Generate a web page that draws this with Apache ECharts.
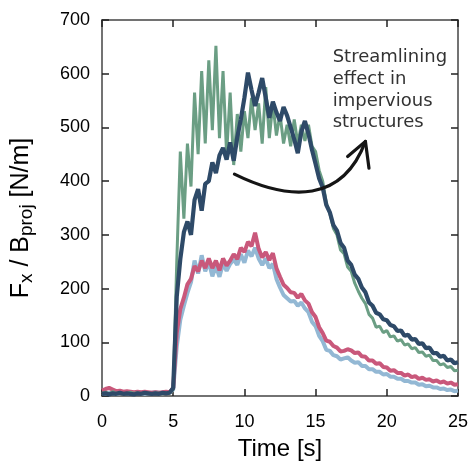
<!DOCTYPE html>
<html><head><meta charset="utf-8">
<script src="https://cdn.jsdelivr.net/npm/echarts@6/dist/echarts.min.js"></script>
<style>html,body{margin:0;padding:0;background:#fff}#c{width:471px;height:466px}</style>
</head><body><div id="c"></div>
<script>
// Sampled every 0.25 s from 0 to 25 s (101 samples per series)
const green = [
  5,7,4,8,5,6,4,5,7,5, 6,4,6,5,4,6,5,4,6,5,
  12,250,455,330,470,390,565,450,605,470,
  625,495,652,480,605,450,565,430,525,455,
  530,480,555,495,545,470,575,480,545,485,
  525,470,505,465,515,470,505,475,505,465,
  455,420,400,360,340,312,300,272,265,240,
  232,210,195,182,172,152,145,128,130,118,
  122,110,112,102,105,95,97,88,90,81,
  82,74,76,66,66,58,60,53,55,47,
  48
];
const darkBlue = [
  4,5,3,5,4,6,4,5,4,3, 5,4,6,5,4,5,4,6,5,6,
  15,185,255,305,325,300,365,385,345,395,
  400,435,415,448,462,440,472,438,482,515,
  555,602,570,540,565,592,555,518,548,528,
  512,538,522,500,478,452,492,512,488,458,
  432,405,388,356,342,318,308,285,276,252,
  244,226,218,202,193,174,168,155,152,143,
  141,132,130,121,122,112,114,105,106,97,
  98,89,90,80,80,73,75,66,68,61,
  63
];
const pink = [
  10,13,15,12,9,10,8,9,8,7, 8,7,8,7,6,7,6,7,8,7,
  15,118,162,183,208,218,242,232,252,238,
  256,238,252,234,256,243,252,264,255,276,
  268,287,279,304,274,258,268,253,266,238,
  222,207,201,193,192,183,190,178,172,156,
  147,128,117,103,101,93,90,83,84,87,
  85,80,81,74,73,66,66,60,61,54,
  53,47,48,43,43,38,40,35,37,32,
  34,30,31,27,29,25,27,23,25,21,
  22
];
const lightBlue = [
  5,4,6,5,4,5,6,5,4,5, 6,5,4,5,6,7,6,5,6,7,
  12,92,142,168,192,212,252,228,262,232,
  250,223,242,222,247,233,246,254,244,264,
  248,271,260,276,256,244,256,238,246,218,
  202,188,182,176,177,168,174,163,156,138,
  130,112,102,86,84,76,74,68,70,72,
  66,62,63,56,56,50,50,45,45,40,
  41,36,36,32,32,28,28,25,25,21,
  22,18,19,16,16,13,14,11,12,9,
  10
];
const time = green.map((_, i) => i * 0.25);
const xTicks = [0, 5, 10, 15, 20, 25];
const yTicks = [0, 100, 200, 300, 400, 500, 600, 700];
const annotation = ['Streamlining', 'effect in', 'impervious', 'structures'];

const pairs = arr => arr.map((v, i) => [time[i], v]);
const chart = echarts.init(document.getElementById('c'), null, {renderer: 'canvas'});
const axisCol = '#444';
const tickFont = {fontFamily: 'Liberation Sans', fontSize: 18, color: '#000'};
const baseX = {
  type: 'value', min: xTicks[0], max: xTicks[xTicks.length - 1], interval: 5,
  axisLine: {show: true, onZero: false, lineStyle: {color: axisCol, width: 1.5}},
  axisTick: {show: true, inside: true, length: 7, lineStyle: {color: '#222', width: 1.5}},
  splitLine: {show: false}
};
const baseY = {
  type: 'value', min: yTicks[0], max: yTicks[yTicks.length - 1], interval: 100,
  axisLine: {show: true, onZero: false, lineStyle: {color: axisCol, width: 1.5}},
  axisTick: {show: true, inside: true, length: 7, lineStyle: {color: '#222', width: 1.5}},
  splitLine: {show: false}
};
const mkSeries = (name, data, color, w) => ({
  name, type: 'line', data: pairs(data), showSymbol: false, symbol: 'none',
  lineStyle: {color, width: w, join: 'bevel'}, itemStyle: {color}, animation: false, z: 2
});
chart.setOption({
  animation: false,
  grid: {left: 102, right: 9, top: 20, bottom: 68, containLabel: false},
  xAxis: [
    Object.assign({}, baseX, {
      position: 'bottom',
      axisLabel: Object.assign({margin: 17}, tickFont),
      name: 'Time [s]', nameLocation: 'middle', nameGap: 41,
      nameTextStyle: {fontFamily: 'Liberation Sans', fontSize: 24, color: '#000'}
    }),
    Object.assign({}, baseX, {position: 'top', axisLabel: {show: false}})
  ],
  yAxis: [
    Object.assign({}, baseY, {
      position: 'left',
      axisLabel: Object.assign({margin: 12}, tickFont),
      name: '{m|F}{s|x}{m| / B}{s|proj}{m| [N/m]}',
      nameLocation: 'middle', nameGap: 66, nameRotate: 90,
      nameTextStyle: {
        color: '#000',
        padding: [0, 20, 0, 0],
        rich: {
          m: {fontFamily: 'Liberation Sans', fontSize: 25, lineHeight: 30, verticalAlign: 'middle', color: '#000'},
          s: {fontFamily: 'Liberation Sans', fontSize: 19, lineHeight: 20, verticalAlign: 'bottom', color: '#000'}
        }
      }
    }),
    Object.assign({}, baseY, {position: 'right', axisLabel: {show: false}})
  ],
  series: [
    mkSeries('lightBlue', lightBlue, '#93b8d4', 4),
    mkSeries('pink', pink, '#c9587b', 4),
    mkSeries('green', green, '#6b9e84', 3),
    mkSeries('darkBlue', darkBlue, '#2e4a68', 4.2)
  ]
});

// Annotation anchored in data coordinates
const P = (t, v) => chart.convertToPixel({xAxisIndex: 0, yAxisIndex: 0}, [t, v]);
const s0 = P(9.3, 413), c1 = P(13.2, 362), c2 = P(16.9, 360), e0 = P(18.5, 474);
const w1 = P(17.25, 446), w2 = P(18.75, 424);
const tp = P(16.2, 650);
chart.setOption({
  graphic: [
    {type: 'bezierCurve', z: 10, shape: {x1: s0[0], y1: s0[1], cpx1: c1[0], cpy1: c1[1], cpx2: c2[0], cpy2: c2[1], x2: e0[0], y2: e0[1]},
     style: {stroke: '#151515', lineWidth: 3.2, fill: null, lineCap: 'round'}},
    {type: 'polyline', z: 10, shape: {points: [w1, e0, w2]},
     style: {stroke: '#151515', lineWidth: 3.2, fill: null, lineCap: 'round', lineJoin: 'round'}},
    {type: 'text', z: 10, x: tp[0], y: tp[1],
     style: {text: annotation.join('\n'), fontFamily: 'DejaVu Sans', fontSize: 18, lineHeight: 21.7, fill: '#333', textAlign: 'left', textVerticalAlign: 'top'}}
  ]
});
</script></body></html>
